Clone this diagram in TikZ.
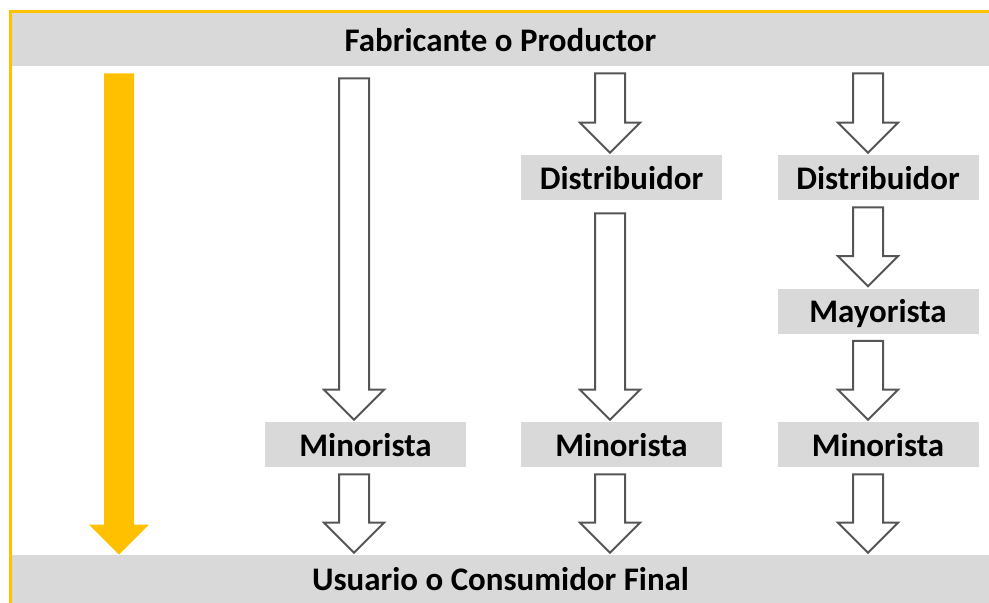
\documentclass[tikz,border=0pt]{standalone}
\usepackage{fontspec}
\setmainfont{Carlito}
\usetikzlibrary{calc}
\definecolor{barorange}{RGB}{255,192,0}
\definecolor{bargray}{RGB}{217,217,217}
\definecolor{arrowgray}{RGB}{85,85,85}

\begin{document}
\begin{tikzpicture}[x=0.75pt, y=-0.75pt,
  bar/.style={fill=bargray, minimum width=732.75pt, minimum height=39.75pt, inner sep=0pt, font=\fontsize{24.7}{28}\selectfont\bfseries, text height=21pt, text depth=3.3pt},
  stage/.style={fill=bargray, minimum width=150.75pt, minimum height=33.75pt, inner sep=0pt, font=\fontsize{24.7}{28}\selectfont\bfseries, text height=21pt, text depth=3.3pt},
  tip gap/.store in=\tipgap, tip gap=1.5pt,
  top gap/.store in=\topgap, top gap=5.25pt,
  blockarrow/.style={draw=arrowgray, line width=1.5pt, fill=white,
    to path={let \p1=(\tikztostart), \p2=(\tikztotarget) in
      (\x1-11.25pt,\y1-\topgap) -- (\x1-11.25pt,\y2+\tipgap+22.5pt) -- (\x1-22.5pt,\y2+\tipgap+22.5pt)
      -- (\x1,\y2+\tipgap) -- (\x1+22.5pt,\y2+\tipgap+22.5pt) -- (\x1+11.25pt,\y2+\tipgap+22.5pt)
      -- (\x1+11.25pt,\y1-\topgap) -- cycle}},
  flowarrow/.style={blockarrow, draw=none, fill=barorange, tip gap=0pt}
]
  \useasboundingbox (0,0) rectangle (989,603);

  % bands and stages
  \node[bar] (prod) at (500.5,39.5) {Fabricante o Productor};
  \node[bar, minimum height=36pt] (cons) at (500.5,579) {Usuario o Consumidor Final};

  \node[stage] (min1) at (365.5,444.5) {Minorista};
  \node[stage] (dist2) at (621.5,177.5) {Distribuidor};
  \node[stage] (min2) at (621.5,444.5) {Minorista};
  \node[stage] (dist3) at (878,177.5) {Distribuidor};
  \node[stage] (may3) at (878,311) {Mayorista};
  \node[stage] (min3) at (878,444.5) {Minorista};

  \draw[barorange, line width=2.25pt] (10,603) -- (10,11.5) -- (989,11.5);

  % arrow columns
  \coordinate (a0) at (119,0);
  \coordinate (a1) at (354,0);
  \coordinate (a2) at (610,0);
  \coordinate (a3) at (868,0);

  \draw[flowarrow] (prod.south -| a0) to (cons.north -| a0);

  \draw[blockarrow, top gap=9pt] (prod.south -| a1) to (min1.north -| a1);
  \draw[blockarrow] (min1.south -| a1) to (cons.north -| a1);

  \draw[blockarrow] (prod.south -| a2) to (dist2.north -| a2);
  \draw[blockarrow, top gap=9.75pt] (dist2.south -| a2) to (min2.north -| a2);
  \draw[blockarrow] (min2.south -| a2) to (cons.north -| a2);

  \draw[blockarrow] (prod.south -| a3) to (dist3.north -| a3);
  \draw[blockarrow] (dist3.south -| a3) to (may3.north -| a3);
  \draw[blockarrow] (may3.south -| a3) to (min3.north -| a3);
  \draw[blockarrow] (min3.south -| a3) to (cons.north -| a3);
\end{tikzpicture}
\end{document}
